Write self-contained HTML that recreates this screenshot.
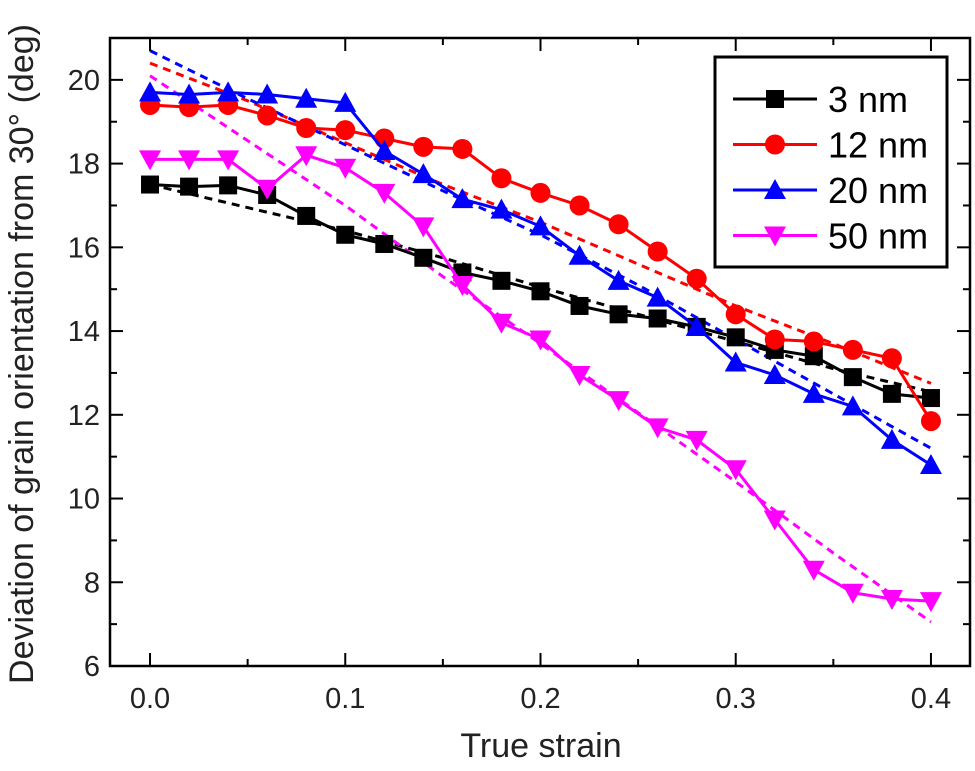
<!DOCTYPE html>
<html><head><meta charset="utf-8"><style>
body{margin:0;background:#fff;}
svg text{font-family:"Liberation Sans",Arial,sans-serif;}
</style></head><body>
<svg id="chart" width="975" height="766" xmlns="http://www.w3.org/2000/svg"></svg>
<script>
const strain = [0,0.02,0.04,0.06,0.08,0.1,0.12,0.14,0.16,0.18,0.2,0.22,0.24,0.26,0.28,0.3,0.32,0.34,0.36,0.38,0.4];
const s3nm  = [17.5,17.45,17.48,17.25,16.75,16.3,16.08,15.75,15.4,15.2,14.95,14.6,14.4,14.3,14.1,13.85,13.55,13.4,12.9,12.5,12.4];
const s12nm = [19.4,19.35,19.4,19.15,18.85,18.8,18.6,18.4,18.35,17.65,17.3,17.0,16.55,15.9,15.25,14.4,13.8,13.75,13.55,13.35,11.85];
const s20nm = [19.7,19.65,19.7,19.65,19.55,19.45,18.3,17.75,17.15,16.9,16.5,15.8,15.2,14.8,14.1,13.25,12.95,12.5,12.2,11.4,10.8];
const s50nm = [18.1,18.1,18.1,17.4,18.2,17.9,17.3,16.5,15.1,14.2,13.8,12.95,12.35,11.7,11.4,10.7,9.5,8.3,7.75,7.6,7.55];
const fitX = [0,0.05,0.1,0.15,0.2,0.25,0.3,0.35,0.4];
const fit3nm  = [17.5,16.95,16.4,15.75,15.05,14.4,13.75,13.1,12.55];
const fit12nm = [20.4,19.5,18.5,17.5,16.6,15.6,14.6,13.7,12.75];
const fit20nm = [20.7,19.55,18.45,17.35,16.3,15.1,13.8,12.5,11.2];
const fit50nm = [20.1,18.55,17.0,15.3,13.7,12.05,10.4,8.7,7.05];
const xTicks = ["0.0","0.1","0.2","0.3","0.4"];
const yTicks = ["6","8","10","12","14","16","18","20"];
const seriesNames = ["3 nm","12 nm","20 nm","50 nm"];

const NS="http://www.w3.org/2000/svg";
const svg=document.getElementById('chart');
const L=110,R=970,T=38,B=666;
const xMin=-0.0205,xMax=0.42,yMin=6,yMax=21;
const X=v=>L+(v-xMin)/(xMax-xMin)*(R-L);
const Y=v=>B-(v-yMin)/(yMax-yMin)*(B-T);
function mk(tag,attrs,parent){const e=document.createElementNS(NS,tag);for(const k in attrs)e.setAttribute(k,attrs[k]);(parent||svg).appendChild(e);return e;}

const colors=["#000000","#ff0000","#0000ff","#ff00ff"];
const shapes=["square","circle","up","down"];
const data=[s3nm,s12nm,s20nm,s50nm];
const fits=[fit3nm,fit12nm,fit20nm,fit50nm];

function marker(shape,cx,cy,c,g){
  let e;
  if(shape==="square") e=mk('rect',{x:cx-9,y:cy-9,width:18,height:18,fill:c},g);
  else if(shape==="circle") e=mk('circle',{cx:cx,cy:cy,r:10,fill:c},g);
  else if(shape==="up") e=mk('polygon',{points:`${cx},${cy-11} ${cx-11},${cy+9} ${cx+11},${cy+9}`,fill:c},g);
  else e=mk('polygon',{points:`${cx},${cy+11} ${cx-11},${cy-9} ${cx+11},${cy-9}`,fill:c},g);
  
  
}

fits.forEach((f,i)=>{
  let d='';
  f.forEach((v,j)=>{d+=(j?'L':'M')+X(fitX[j]).toFixed(1)+','+Y(v).toFixed(1);});
  const p=mk('path',{d:d,fill:'none',stroke:colors[i],'stroke-width':3,'stroke-dasharray':'8,6'});
  
  
});
data.forEach((s,i)=>{
  const g=mk('g',{});
  
  
  const pts=s.map((v,j)=>X(strain[j]).toFixed(1)+','+Y(v).toFixed(1)).join(' ');
  mk('polyline',{points:pts,fill:'none',stroke:colors[i],'stroke-width':3},g);
  s.forEach((v,j)=>marker(shapes[i],X(strain[j]),Y(v),colors[i],g));
});

const fr=mk('rect',{x:L,y:T,width:R-L,height:B-T,fill:'none',stroke:'#000','stroke-width':2.5});


xTicks.forEach((t,i)=>{
  const v=parseFloat(t),px=X(v);
  mk('line',{x1:px,y1:B,x2:px,y2:B-13,stroke:'#000','stroke-width':2});
  mk('line',{x1:px,y1:T,x2:px,y2:T+13,stroke:'#000','stroke-width':2});
  if(i<xTicks.length-1){const m=X(v+0.05);
    mk('line',{x1:m,y1:B,x2:m,y2:B-7,stroke:'#000','stroke-width':2});
    mk('line',{x1:m,y1:T,x2:m,y2:T+7,stroke:'#000','stroke-width':2});}
  const tx=mk('text',{x:px,y:B+42,'font-size':29,'text-anchor':'middle',fill:'#222'});
  tx.textContent=t;
  
  
});
yTicks.forEach((t,i)=>{
  const v=parseFloat(t),py=Y(v);
  mk('line',{x1:L,y1:py,x2:L+13,y2:py,stroke:'#000','stroke-width':2});
  mk('line',{x1:R,y1:py,x2:R-13,y2:py,stroke:'#000','stroke-width':2});
  const m=Y(v+1);
  mk('line',{x1:L,y1:m,x2:L+7,y2:m,stroke:'#000','stroke-width':2});
  mk('line',{x1:R,y1:m,x2:R-7,y2:m,stroke:'#000','stroke-width':2});
  const tx=mk('text',{x:L-10,y:py+10,'font-size':29,'text-anchor':'end',fill:'#222'});
  tx.textContent=t;
  
  
});
const xl=mk('text',{x:541,y:757,'font-size':34,'text-anchor':'middle',fill:'#222'});
xl.textContent='True strain';


const yl=mk('text',{x:0,y:0,'font-size':34,'text-anchor':'middle',fill:'#222',transform:'translate(33,354) rotate(-90)'});
yl.textContent='Deviation of grain orientation from 30° (deg)';



const lg=mk('g',{});


mk('rect',{x:715,y:57,width:232,height:210,fill:'#fff',stroke:'#000','stroke-width':3},lg);
seriesNames.forEach((n,i)=>{
  const ey=99+i*45.5;
  const eg=mk('g',{},lg);
  
  
  mk('line',{x1:733,y1:ey,x2:817,y2:ey,stroke:colors[i],'stroke-width':3},eg);
  marker(shapes[i],775,ey,colors[i],eg);
  const t=mk('text',{x:828,y:ey+13,'font-size':36,fill:'#000'},eg);
  t.textContent=n;
});
</script>
</body></html>
